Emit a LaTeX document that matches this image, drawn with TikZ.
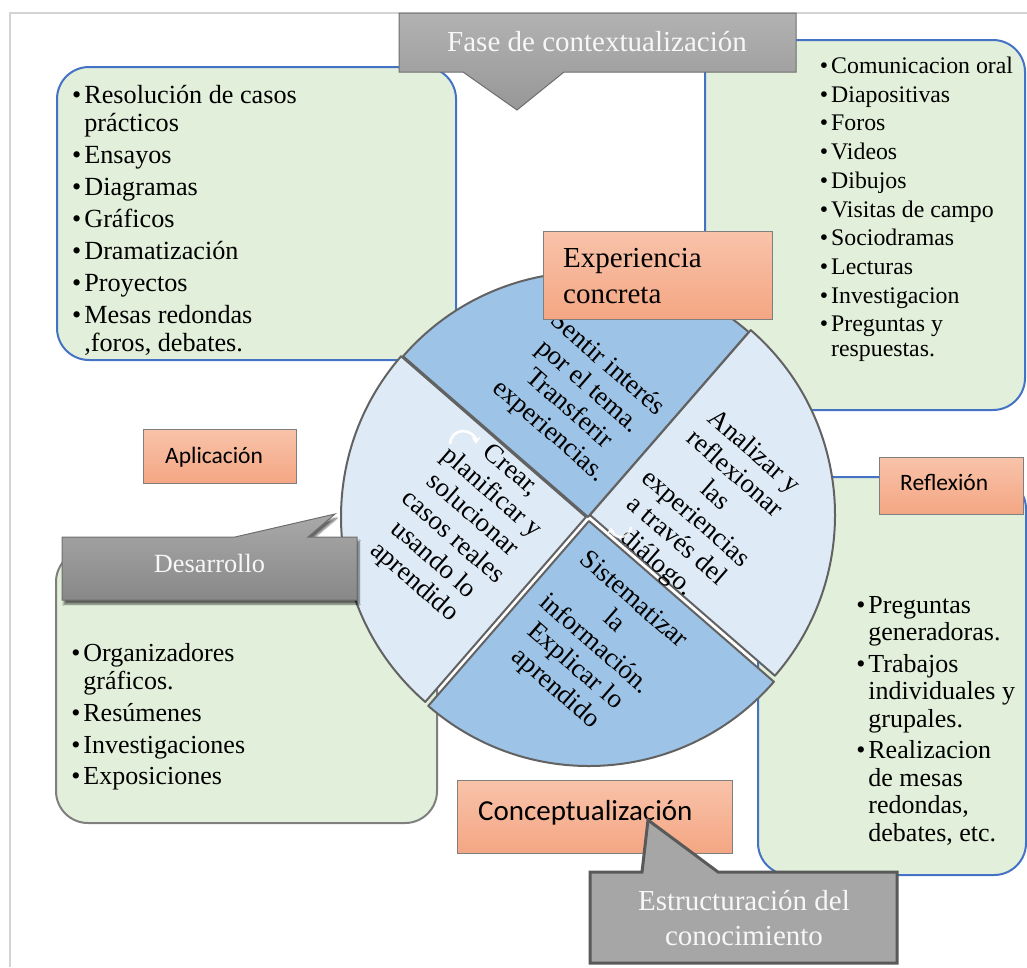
\documentclass[tikz,border=0pt]{standalone}
\usepackage{fontspec}
\setmainfont{Liberation Serif}
\newfontfamily\calib{Carlito}
\usetikzlibrary{shadows.blur,arrows.meta}

\definecolor{boxgreen}{HTML}{E2EFDA}
\definecolor{boxblue}{HTML}{4472C4}
\definecolor{boxgray}{HTML}{7F7F7F}
\definecolor{secdark}{HTML}{9DC3E6}
\definecolor{seclight}{HTML}{DEEBF7}
\definecolor{secline}{HTML}{626262}
\definecolor{salmontop}{HTML}{F8C3AA}
\definecolor{salmonbot}{HTML}{F4A683}
\definecolor{labline}{HTML}{7F7F7F}
\definecolor{calltop}{HTML}{B2B2B2}
\definecolor{callbot}{HTML}{979797}
\definecolor{callline}{HTML}{6E6E6E}
\definecolor{framegray}{HTML}{D4D4D4}
\definecolor{wtext}{HTML}{F7F7F7}

% bullet and the matching hanging indent for wrapped lines
\newcommand\bl{\textbullet\hspace{3pt}}
\newcommand\ind{\phantom{\textbullet}\hspace{3pt}}

\begin{document}
\begin{tikzpicture}[x=1pt,y=-1pt,
  listbox/.style={draw=boxblue, line width=2pt, fill=boxgreen, rounded corners=32pt},
  itemlist/.style={anchor=north west, inner sep=0pt, align=left},
  sector/.style={draw=secline, line width=2pt, line join=round},
  sectext/.style={rotate=-41, align=center, inner sep=0pt, font=\fontsize{26.8}{29.5}\selectfont},
  phasebox/.style={draw=labline, line width=1pt, top color=salmontop, bottom color=salmonbot},
  phasetext/.style={anchor=base west, inner sep=0pt},
  callout/.style={draw=callline, line width=1pt, top color=calltop, bottom color=callbot},
  calltext/.style={text=wtext, inner sep=0pt, align=center},
  cyclearrow/.style={white, line width=2.5pt, -{Stealth[length=7pt,width=9pt]}}
]
\useasboundingbox (0,0) rectangle (1027,967);

% page frame
\draw[framegray, line width=1.5pt] (10,967) -- (10,13) -- (1027,13);

% activity boxes
\path[listbox] (57,67) rectangle (456,360);
\path[listbox] (705,40) rectangle (1025,410);
\path[listbox] (758,477) rectangle (1026,875);
\path[listbox, draw=boxgray] (56,550) rectangle (437,823);

\node[itemlist, font=\fontsize{26.2}{28}\selectfont] (listA) at (72,83.7) {%
\strut\bl Resolución de casos\\
\ind prácticos\\[4pt]
\bl Ensayos\\[4pt]
\bl Diagramas\\[4pt]
\bl Gráficos\\[4pt]
\bl Dramatización\\[4pt]
\bl Proyectos\\[4pt]
\bl Mesas redondas\\
\ind ,foros, debates.};

\node[itemlist, font=\fontsize{23.8}{25}\selectfont] (listB) at (819.7,55.8) {%
\strut\bl Comunicacion oral\\[3.7pt]
\bl Diapositivas\\[3.7pt]
\bl Foros\\[3.7pt]
\bl Videos\\[3.7pt]
\bl Dibujos\\[3.7pt]
\bl Visitas de campo\\[3.7pt]
\bl Sociodramas\\[3.7pt]
\bl Lecturas\\[3.7pt]
\bl Investigacion\\[3.7pt]
\bl Preguntas y\\
\ind respuestas.};

\node[itemlist, font=\fontsize{26}{27.5}\selectfont] (listC) at (856.1,593.7) {%
\strut\bl Preguntas\\
\ind generadoras.\\[4pt]
\bl Trabajos\\
\ind individuales y\\
\ind grupales.\\[4pt]
\bl Realizacion\\
\ind de mesas\\
\ind redondas,\\
\ind debates, etc.};

\node[itemlist, font=\fontsize{26}{27.5}\selectfont] (listD) at (71.1,642.4) {%
\strut\bl Organizadores\\
\ind gráficos.\\[5pt]
\bl Resúmenes\\[4pt]
\bl Investigaciones\\[4pt]
\bl Exposiciones};

% learning cycle: four pie sectors
\filldraw[sector, fill=secdark] (588,517) -- ++(-49:245)
  arc[start angle=-49, end angle=-139, radius=245] -- cycle;
\filldraw[sector, fill=seclight] (590,515) -- ++(41:245)
  arc[start angle=41, end angle=-49, radius=245] -- cycle;
\filldraw[sector, fill=seclight] (586,517) -- ++(-139:245)
  arc[start angle=-139, end angle=-229, radius=245] -- cycle;
\filldraw[sector, fill=secdark] (589,521) -- ++(131:245)
  arc[start angle=131, end angle=41, radius=245] -- cycle;

\node[sectext] (secA) at (578,398) {Sentir interés\\por el tema.\\Transferir\\experiencias.};
\node[sectext] (secB) at (705,508) {Analizar y\\reflexionar\\las\\experiencias\\a través del\\diálogo.};
\node[sectext] (secC) at (594,645) {Sistematizar\\la\\información.\\Explicar lo\\aprendido};
\node[sectext] (secD) at (462,527) {Crear,\\planificar y\\solucionar\\casos reales\\usando lo\\aprendido};

\draw[cyclearrow] (450,444) arc[start angle=180, end angle=360, radius=13];
\draw[cyclearrow, opacity=0.85] (631,527) arc[start angle=0, end angle=180, radius=10];

% stage labels
\path[phasebox] (543,231) rectangle (772,319);
\node[phasetext, align=left, anchor=north west, font=\fontsize{29}{36}\selectfont]
  (expc) at (563,241.8) {\strut Experiencia\\concreta};
\path[phasebox] (143,429) rectangle (296,483);
\node[phasetext, font=\calib\fontsize{23.5}{28}\selectfont] (aplic) at (165,463.3) {Aplicación};
\path[phasebox] (879,457) rectangle (1023,514);
\node[phasetext, font=\calib\fontsize{23.5}{28}\selectfont] (refl) at (900,490) {Reflexión};
\path[phasebox] (457,780) rectangle (732,853);
\node[phasetext, font=\calib\fontsize{29}{34}\selectfont] (concep) at (478,820) {Conceptualización};

% phase callouts
\path[callout] (399,13) -- (796,13) -- (796,72) -- (564,72) -- (517,110)
  -- (463,72) -- (399,72) -- cycle;
\node[calltext, anchor=base, font=\fontsize{29}{35}\selectfont] (fase) at (597,51)
  {Fase de contextualización};

\path[callout, top color=calltop!95!black, bottom color=callbot!90!black,
  blur shadow={shadow xshift=2pt, shadow yshift=-4pt, shadow blur steps=6, shadow opacity=60}]
  (62,537) -- (235,537) -- (335,514) -- (308,537) -- (357,537) -- (357,600)
  -- (62,600) -- cycle;
\node[calltext, anchor=base, font=\fontsize{26.3}{32}\selectfont] (desa) at (209.5,572)
  {Desarrollo};

\path[draw=black!65, line width=3pt, fill=black!35, line join=miter]
  (590,872) -- (642,872) -- (648,820) -- (718,872) -- (897,872) -- (897,963)
  -- (590,963) -- cycle;
\node[calltext, anchor=north, font=\fontsize{29}{35}\selectfont] (estr) at (744,885.5)
  {\strut Estructuración del\\conocimiento};
\end{tikzpicture}
\end{document}
